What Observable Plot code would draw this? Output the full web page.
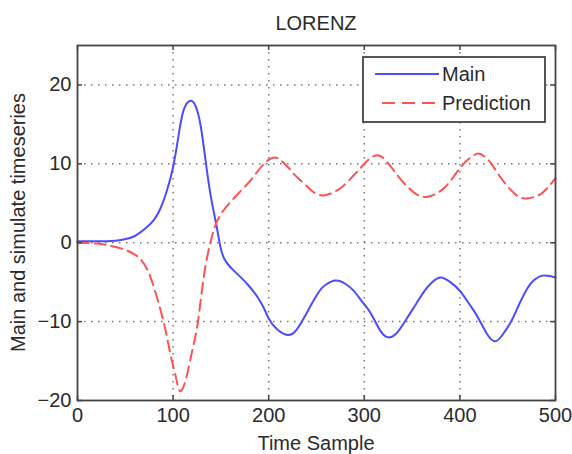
<!DOCTYPE html>
<html>
<head>
<meta charset="utf-8">
<script src="https://cdn.jsdelivr.net/npm/d3@7"></script>
<script src="https://cdn.jsdelivr.net/npm/@observablehq/plot@0.6"></script>
<style>
  html, body { margin: 0; padding: 0; background: #fff; }
  #chart { width: 572px; height: 454px; }
  svg { font-family: "Liberation Sans", Arial, sans-serif; }
</style>
</head>
<body>
<div id="chart"></div>
<script>
// Lorenz run: measured series ("Main") and the model's output ("Prediction")
const mainT = [0, 10, 20, 30, 40, 45, 55, 62, 70, 80, 87, 93, 100, 106, 111, 118, 124, 129, 134, 139, 145, 148, 153, 164, 178, 192, 200, 209, 220, 228, 237, 251, 260, 270, 280, 289, 298, 307, 317, 326, 335, 345, 354, 363, 371, 380, 390, 400, 410, 419, 428, 437, 445, 454, 462, 471, 478, 485, 492, 500];
const mainV = [0.2, 0.2, 0.2, 0.2, 0.25, 0.35, 0.6, 1.0, 1.7, 2.9, 4.4, 6.4, 9.6, 13.8, 16.8, 18.0, 17.2, 14.7, 10.4, 6.2, 2.4, 0.4, -1.9, -3.6, -5.3, -7.6, -9.6, -11.0, -11.7, -11.2, -9.5, -6.5, -5.3, -4.8, -5.2, -6.1, -7.5, -9.0, -11.2, -12.0, -11.3, -9.5, -7.8, -6.1, -5.0, -4.4, -5.0, -6.1, -7.8, -9.5, -11.5, -12.5, -11.6, -9.9, -7.8, -5.7, -4.7, -4.2, -4.2, -4.4];

const predT = [0, 20, 31, 42, 52, 60, 66, 73, 80, 90, 97, 103, 107, 113, 120, 126, 132, 139, 148, 164, 181, 195, 206, 213, 220, 228, 237, 246, 256, 266, 276, 287, 297, 305, 314, 321, 328, 337, 346, 355, 365, 375, 384, 393, 401, 410, 419, 426, 433, 443, 454, 462, 470, 478, 485, 492, 500];
const predV = [0, -0.1, -0.3, -0.6, -1.0, -1.5, -2.1, -3.4, -5.7, -10.0, -14.0, -17.1, -18.8, -17.5, -13.7, -10.0, -4.4, 0, 3.2, 5.7, 7.9, 10.0, 10.8, 10.4, 9.6, 8.5, 7.5, 6.5, 6.0, 6.3, 7.0, 8.3, 9.6, 10.6, 11.1, 10.6, 9.6, 8.2, 7.0, 6.1, 5.8, 6.2, 7.0, 8.3, 9.6, 10.7, 11.3, 10.9, 10.0, 8.2, 6.6, 5.8, 5.6, 5.8, 6.2, 7.0, 8.2];

const xTicks = [0, 100, 200, 300, 400, 500];
const yTicks = [-20, -10, 0, 10, 20];
const seriesNames = ["Main", "Prediction"];
const titleText = "LORENZ";
const xLabel = "Time Sample";
const yLabel = "Main and simulate timeseries";

const mainData = mainT.map((t, i) => ({t, v: mainV[i]}));
const predData = predT.map((t, i) => ({t, v: predV[i]}));

const W = 572, H = 454;
const mL = 77, mR = 17, mT = 45, mB = 54;
const frameW = W - mL - mR, frameH = H - mT - mB;
const tickLen = 5;
const blue = "#4b4bff", red = "#ff5252";
const dash = "11,6";
const ink = "#2a2a2a";
const fontPx = 20;

const plot = Plot.plot({
  width: W,
  height: H,
  marginLeft: mL,
  marginRight: mR,
  marginTop: mT,
  marginBottom: mB,
  style: {fontSize: fontPx + "px", color: ink, background: "#fff"},
  x: {domain: [0, 500]},
  y: {domain: [-20, 25]},
  marks: [
    // dotted grid
    Plot.ruleX(xTicks.slice(1, -1), {stroke: "#777", strokeDasharray: "1.5,5.5", strokeWidth: 1.5}),
    Plot.ruleY(yTicks.slice(1), {stroke: "#777", strokeDasharray: "1.5,5.5", strokeWidth: 1.5}),
    // series
    Plot.line(mainData, {x: "t", y: "v", stroke: blue, strokeWidth: 2, curve: "natural"}),
    Plot.line(predData, {x: "t", y: "v", stroke: red, strokeWidth: 2, strokeDasharray: dash, curve: "natural"}),
    // inward ticks on all four sides
    Plot.ruleX(xTicks, {stroke: "#444", strokeWidth: 1.5, insetTop: frameH - tickLen}),
    Plot.ruleX(xTicks, {stroke: "#444", strokeWidth: 1.5, insetBottom: frameH - tickLen}),
    Plot.ruleY(yTicks, {stroke: "#444", strokeWidth: 1.5, insetRight: frameW - tickLen}),
    Plot.ruleY(yTicks, {stroke: "#444", strokeWidth: 1.5, insetLeft: frameW - tickLen}),
    Plot.frame({stroke: "#444", strokeWidth: 1.8}),
    Plot.axisX(xTicks, {tickSize: 0, tickPadding: 7, label: null, fontSize: fontPx}),
    Plot.axisY(yTicks, {tickSize: 0, tickPadding: 6, label: null, fontSize: fontPx})
  ]
});

document.getElementById("chart").appendChild(plot);

// title, axis titles and legend
const svg = d3.select(plot);
const cx = mL + frameW / 2, cy = mT + frameH / 2;

svg.append("text")
  .attr("x", cx).attr("y", 30)
  .attr("text-anchor", "middle")
  .attr("font-size", fontPx).attr("fill", ink)
  .text(titleText);

svg.append("text")
  .attr("x", cx).attr("y", 450)
  .attr("text-anchor", "middle")
  .attr("font-size", fontPx).attr("fill", ink)
  .text(xLabel);

svg.append("text")
  .attr("transform", `translate(25,${cy}) rotate(-90)`)
  .attr("text-anchor", "middle")
  .attr("font-size", fontPx).attr("fill", ink)
  .text(yLabel);

const lg = svg.append("g");
lg.append("rect")
  .attr("x", 363).attr("y", 57).attr("width", 182).attr("height", 65)
  .attr("fill", "#fff").attr("stroke", "#444").attr("stroke-width", 1.8);
const rows = [
  {name: seriesNames[0], color: blue, dash: null, x1: 375, y: 74},
  {name: seriesNames[1], color: red, dash: "13,7", x1: 382, y: 103}
];
rows.forEach(r => {
  lg.append("line")
    .attr("x1", r.x1).attr("x2", 439).attr("y1", r.y).attr("y2", r.y)
    .attr("stroke", r.color).attr("stroke-width", 2)
    .attr("stroke-dasharray", r.dash);
  lg.append("text")
    .attr("x", 442).attr("y", r.y).attr("dy", "0.36em")
    .attr("text-anchor", "start")
    .attr("font-size", fontPx).attr("fill", ink)
    .text(r.name);
});
</script>
</body>
</html>
